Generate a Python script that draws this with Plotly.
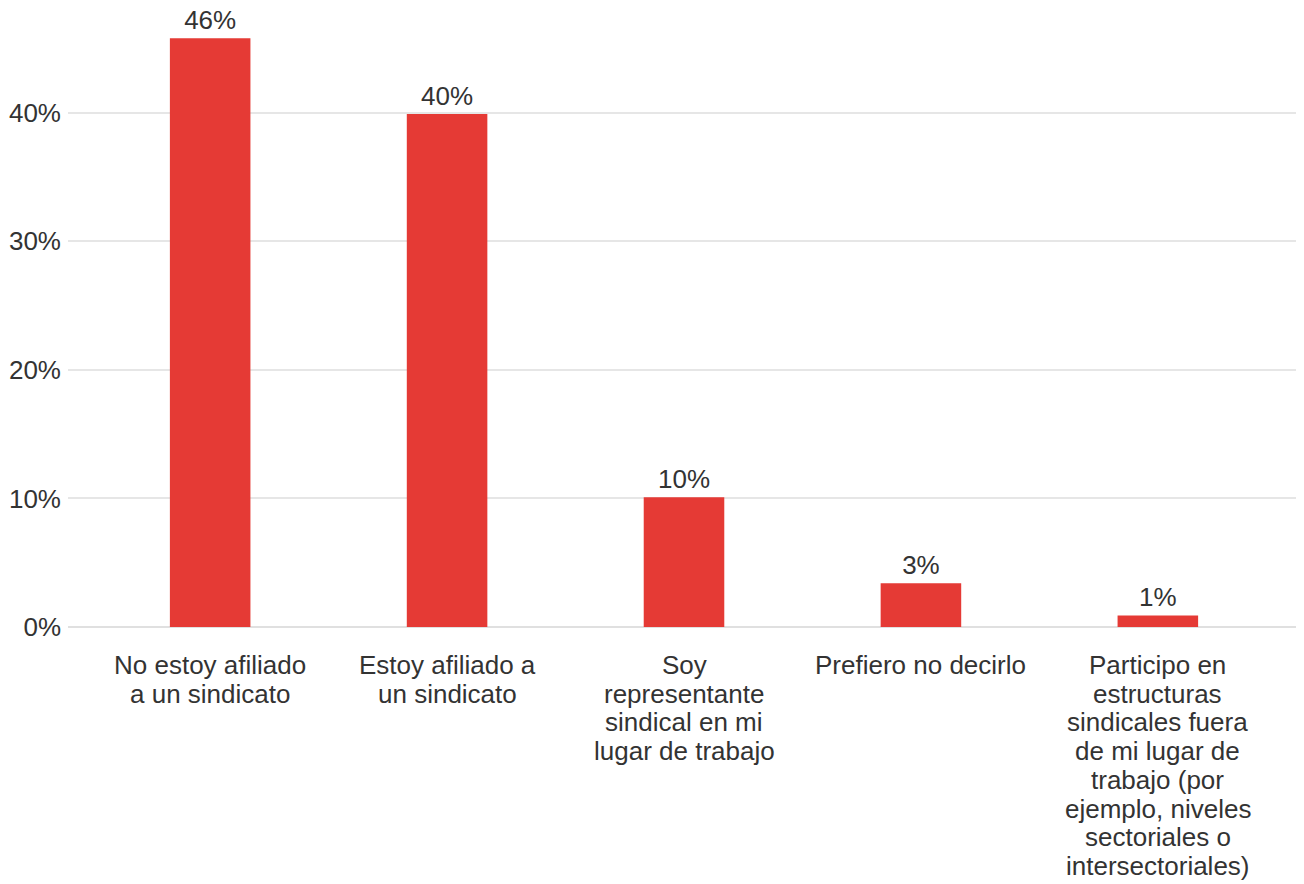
import plotly.graph_objects as go

categories = [
    "No estoy afiliado<br>a un sindicato",
    "Estoy afiliado a<br>un sindicato",
    "Soy<br>representante<br>sindical en mi<br>lugar de trabajo",
    "Prefiero no decirlo",
    "Participo en<br>estructuras<br>sindicales fuera<br>de mi lugar de<br>trabajo (por<br>ejemplo, niveles<br>sectoriales o<br>intersectoriales)",
]
values = [45.8, 39.9, 10.1, 3.4, 0.9]
y_ticks = [0, 10, 20, 30, 40]
y_tick_labels = ["0%", "10%", "20%", "30%", "40%"]

FONT = "Liberation Sans, Arial, sans-serif"
TEXT = "#333333"
FS = 26
LABEL_GAP = 38     # px from axis to centre of first label line
LINE_PITCH = 28.7  # px between label lines

fig = go.Figure(
    go.Bar(
        x=categories,
        y=values,
        width=0.34,
        marker=dict(color="#e53a35", line=dict(width=0)),
        texttemplate="%{y:.0f}%",
        textposition="outside",
        textfont=dict(family=FONT, size=FS, color=TEXT),
        cliponaxis=False,
        hoverinfo="skip",
    )
)

# category labels, one text line each so the line spacing matches the reference
for cat in categories:
    for k, line in enumerate(cat.split("<br>")):
        fig.add_annotation(
            x=cat, y=0, xref="x", yref="y",
            text=line, showarrow=False,
            xanchor="center", yanchor="middle",
            yshift=-(LABEL_GAP + k * LINE_PITCH),
            font=dict(family=FONT, size=FS, color=TEXT),
        )

# the page body adds an 8px margin, so the figure is 8px smaller than the window
fig.update_layout(
    width=1296,
    height=876,
    margin=dict(l=60, r=4, t=2, b=257),
    paper_bgcolor="white",
    plot_bgcolor="white",
    showlegend=False,
    font=dict(family=FONT, color=TEXT),
)
fig.update_xaxes(
    range=[-0.6, 4.6],
    showgrid=False,
    showline=False,
    zeroline=False,
    ticks="",
    showticklabels=False,
    automargin=False,
)
fig.update_yaxes(
    range=[0, 48],
    tickvals=y_ticks,
    ticktext=y_tick_labels,
    showgrid=True,
    gridcolor="#e6e6e6",
    gridwidth=1.5,
    zeroline=True,
    zerolinecolor="#e0e0e0",
    zerolinewidth=2,
    showline=False,
    ticks="",
    tickfont=dict(family=FONT, size=FS, color=TEXT),
    ticklabelstandoff=6,
    automargin=False,
)

fig.write_html("out.html")
